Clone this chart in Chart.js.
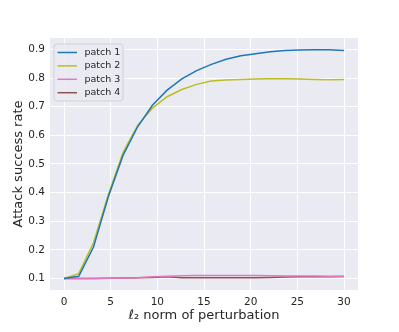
<!DOCTYPE html>
<html>
<head>
<meta charset="utf-8">
<script src="https://cdn.jsdelivr.net/npm/chart.js@4/dist/chart.umd.min.js"></script>
<style>
  html, body { margin: 0; padding: 0; background: #fff; }
  #wrap { width: 399px; height: 332px; }
</style>
</head>
<body>
<div id="wrap"><canvas id="chart" width="399" height="332"></canvas></div>
<script>
// perturbation norms (20 evenly spaced runs from 0 to 30)
const norms = [0, 1.58, 3.16, 4.74, 6.32, 7.89, 9.47, 11.05, 12.63, 14.21,
               15.79, 17.37, 18.95, 20.53, 22.11, 23.68, 25.26, 26.84, 28.42, 30];

const patch1 = [0.100, 0.108, 0.210, 0.385, 0.530, 0.630, 0.705, 0.758, 0.797, 0.826,
                0.848, 0.866, 0.878, 0.885, 0.892, 0.896, 0.898, 0.899, 0.899, 0.896];
const patch2 = [0.100, 0.117, 0.225, 0.392, 0.540, 0.635, 0.695, 0.735, 0.760, 0.778,
                0.790, 0.793, 0.795, 0.797, 0.798, 0.798, 0.797, 0.795, 0.794, 0.795];
const patch3 = [0.100, 0.100, 0.100, 0.101, 0.102, 0.103, 0.106, 0.108, 0.110, 0.111,
                0.111, 0.111, 0.111, 0.111, 0.110, 0.109, 0.109, 0.109, 0.108, 0.108];
const patch4 = [0.100, 0.100, 0.100, 0.101, 0.102, 0.103, 0.104, 0.106, 0.103, 0.103,
                0.103, 0.103, 0.103, 0.103, 0.104, 0.105, 0.106, 0.106, 0.106, 0.107];

const xTicks = [0, 5, 10, 15, 20, 25, 30];
const yTicks = [0.1, 0.2, 0.3, 0.4, 0.5, 0.6, 0.7, 0.8, 0.9];

const FONT = 'DejaVu Sans';
const TXT = '#262626';

function series(label, ys, color){
  return {
    label: label,
    data: norms.map((x, i) => ({x: x, y: ys[i]})),
    borderColor: color,
    backgroundColor: color,
    borderWidth: 1.5,
    pointRadius: 0,
    tension: 0,
    fill: false
  };
}

// grey seaborn panel behind the plot
const panelBg = {
  id: 'panelBg',
  beforeDraw(chart){
    const {ctx, chartArea: a} = chart;
    ctx.save();
    ctx.fillStyle = '#eaeaf2';
    ctx.fillRect(a.left, a.top, a.right - a.left, a.bottom - a.top);
    ctx.restore();
  }
};

// legend drawn inside the axes, upper left
const innerLegend = {
  id: 'innerLegend',
  afterDatasetsDraw(chart){
    const {ctx, chartArea: a} = chart;
    const sets = chart.data.datasets;
    const x0 = a.left + 4, y0 = a.top + 6;
    const w = 69, h = 57, rowH = 13.4;
    ctx.save();
    ctx.beginPath();
    ctx.roundRect(x0, y0, w, h, 3);
    ctx.fillStyle = 'rgba(234,234,242,0.85)';
    ctx.fill();
    ctx.strokeStyle = '#d0d0d8';
    ctx.lineWidth = 1;
    ctx.stroke();
    ctx.font = '9.5px "' + FONT + '"';
    ctx.textBaseline = 'middle';
    sets.forEach((ds, i) => {
      const y = y0 + 8.5 + i * rowH;
      ctx.strokeStyle = ds.borderColor;
      ctx.lineWidth = 1.5;
      ctx.beginPath();
      ctx.moveTo(x0 + 3.5, y);
      ctx.lineTo(x0 + 23, y);
      ctx.stroke();
      ctx.fillStyle = TXT;
      ctx.fillText(ds.label, x0 + 30.5, y);
    });
    ctx.restore();
  }
};

new Chart(document.getElementById('chart'), {
  type: 'line',
  data: {
    datasets: [
      series('patch 1', patch1, '#1f77b4'),
      series('patch 2', patch2, '#bcbd22'),
      series('patch 3', patch3, '#e377c2'),
      series('patch 4', patch4, '#8c564b')
    ]
  },
  options: {
    responsive: false,
    animation: false,
    layout: {padding: {left: 0, top: 38, right: 41, bottom: 0}},
    plugins: {legend: {display: false}, tooltip: {enabled: false}},
    scales: {
      x: {
        type: 'linear',
        min: -1.5, max: 31.5,
        afterBuildTicks: s => { s.ticks = xTicks.map(v => ({value: v})); },
        afterFit: s => { s.height = 42; },
        grid: {color: '#ffffff', lineWidth: 1, drawTicks: false},
        border: {display: false},
        ticks: {color: TXT, padding: 6, font: {family: FONT, size: 10.5}, maxRotation: 0},
        title: {display: true, text: 'ℓ₂ norm of perturbation', color: TXT,
                font: {family: FONT, size: 13}, padding: {top: 4, bottom: 9}}
      },
      y: {
        min: 0.06, max: 0.94,
        afterBuildTicks: s => { s.ticks = yTicks.map(v => ({value: v})); },
        afterFit: s => { s.width = 50; },
        grid: {color: '#ffffff', lineWidth: 1, drawTicks: false},
        border: {display: false},
        ticks: {color: TXT, padding: 5, font: {family: FONT, size: 10.5},
                callback: v => v.toFixed(1)},
        title: {display: true, text: 'Attack success rate', color: TXT,
                font: {family: FONT, size: 13}, padding: {top: 11, bottom: 4}}
      }
    }
  },
  plugins: [panelBg, innerLegend]
});
</script>
</body>
</html>
